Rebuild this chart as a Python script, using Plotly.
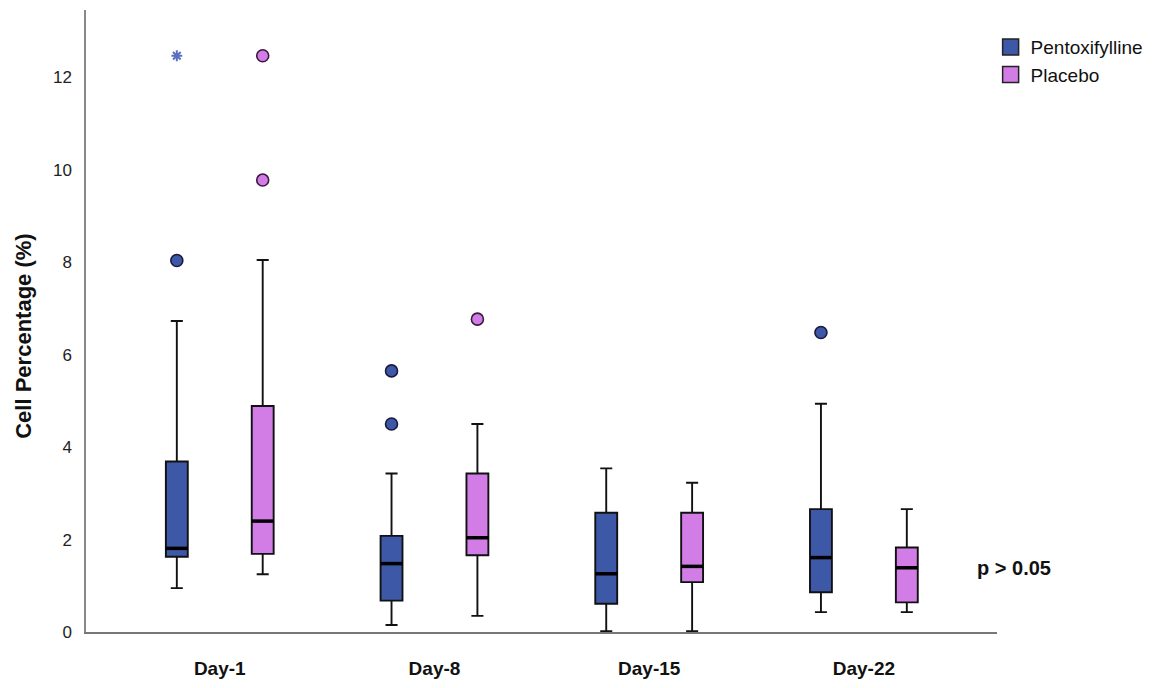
import plotly.graph_objects as go

days = ["Day-1", "Day-8", "Day-15", "Day-22"]

# Pentoxifylline summary stats
pen_q1 = [1.63, 0.68, 0.61, 0.86]
pen_median = [1.81, 1.48, 1.26, 1.61]
pen_q3 = [3.69, 2.08, 2.58, 2.66]
pen_low = [0.95, 0.15, 0.02, 0.43]
pen_high = [6.73, 3.43, 3.54, 4.94]
pen_out_day = [1, 2, 2, 4]
pen_out_val = [8.04, 4.50, 5.65, 6.48]
pen_extreme_day = [1]
pen_extreme_val = [12.47]

# Placebo summary stats
pla_q1 = [1.69, 1.66, 1.08, 0.64]
pla_median = [2.40, 2.04, 1.42, 1.39]
pla_q3 = [4.89, 3.43, 2.58, 1.83]
pla_low = [1.25, 0.35, 0.02, 0.43]
pla_high = [8.05, 4.50, 3.23, 2.66]
pla_out_day = [1, 1, 2]
pla_out_val = [9.78, 12.47, 6.77]

blue = "#3e58a8"
violet = "#d27de6"
offset = 0.2
box_w = 0.102
font = "Arial, Liberation Sans, sans-serif"

day_pos = list(range(1, len(days) + 1))
pen_x = [d - offset for d in day_pos]
pla_x = [d + offset for d in day_pos]

fig = go.Figure()

for xs, q1, med, q3, lo, hi, col in [
        (pen_x, pen_q1, pen_median, pen_q3, pen_low, pen_high, blue),
        (pla_x, pla_q1, pla_median, pla_q3, pla_low, pla_high, violet)]:
    fig.add_trace(go.Box(x=xs, q1=q1, median=med, q3=q3, lowerfence=lo, upperfence=hi,
                         width=box_w, whiskerwidth=0.55, fillcolor=col,
                         line=dict(color="#111111", width=1.9),
                         boxpoints=False, showlegend=False, hoverinfo="skip"))
    # thicker median bars
    for x, m in zip(xs, med):
        fig.add_trace(go.Scatter(x=[x - box_w / 2, x + box_w / 2], y=[m, m], mode="lines",
                                 line=dict(color="black", width=3.5),
                                 showlegend=False, hoverinfo="skip"))

fig.add_trace(go.Scatter(x=[d - offset for d in pen_out_day], y=pen_out_val, mode="markers",
                         marker=dict(symbol="circle", size=12, color=blue,
                                     line=dict(color="#1a1a40", width=1.6)),
                         showlegend=False))
fig.add_trace(go.Scatter(x=[d - offset for d in pen_extreme_day], y=pen_extreme_val, mode="markers",
                         marker=dict(symbol="asterisk", size=9, color="#5a6fc0",
                                     line=dict(color="#5a6fc0", width=2)),
                         showlegend=False))
fig.add_trace(go.Scatter(x=[d + offset for d in pla_out_day], y=pla_out_val, mode="markers",
                         marker=dict(symbol="circle", size=12, color=violet,
                                     line=dict(color="#3a1a40", width=1.6)),
                         showlegend=False))

# legend entries
for name, col in [("Pentoxifylline", blue), ("Placebo", violet)]:
    fig.add_trace(go.Scatter(x=[None], y=[None], mode="markers", name=name,
                             marker=dict(symbol="square", size=19, color=col,
                                         line=dict(color="#222222", width=1.5))))

fig.add_annotation(x=0.976, y=1.39, xref="paper", yref="y", text="<b>p > 0.05</b>",
                   showarrow=False, xanchor="left", yanchor="middle",
                   font=dict(family=font, size=20, color="#111111"))

# y axis title placed as a rotated annotation
fig.add_annotation(x=-0.0845, y=6.4, xref="paper", yref="y", text="<b>Cell Percentage (%)</b>",
                   textangle=-90, showarrow=False, xanchor="left", yanchor="middle",
                   font=dict(family=font, size=22, color="#111111"))

fig.update_layout(
    width=1160, height=680,
    margin=dict(l=78, r=171, t=2, b=56),
    paper_bgcolor="white", plot_bgcolor="white",
    font=dict(family=font, color="#111111"),
    legend=dict(x=0.993, y=0.971, xanchor="left", yanchor="top",
                font=dict(size=19, family=font), itemwidth=30, tracegroupgap=2,
                bgcolor="rgba(0,0,0,0)"),
    xaxis=dict(range=[0.377, 4.62], tickvals=day_pos,
               ticktext=["<b>" + d + "</b>" for d in days],
               tickfont=dict(size=19, family=font, color="#111111"),
               showgrid=False, zeroline=False, showline=True,
               linecolor="#777777", linewidth=1.5,
               ticks="outside", ticklen=18, tickcolor="rgba(0,0,0,0)"),
    yaxis=dict(range=[0, 13.46], tickvals=[0, 2, 4, 6, 8, 10, 12],
               tickfont=dict(size=17, family=font, color="#222222"),
               showgrid=False, zeroline=False, showline=True,
               linecolor="#888888", linewidth=1.5,
               ticks="outside", ticklen=9, tickcolor="rgba(0,0,0,0)"),
)

fig.write_html("out.html")
